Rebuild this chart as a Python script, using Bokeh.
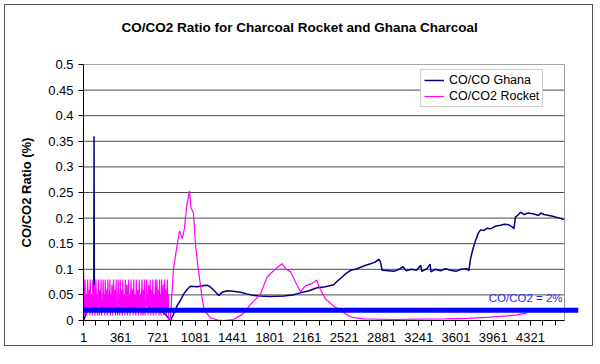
from bokeh.plotting import figure
from bokeh.models import FixedTicker, Legend, LegendItem, Label, NumeralTickFormatter, Title
from bokeh.embed import file_html
from bokeh.resources import INLINE

TITLE = "CO/CO2 Ratio for Charcoal Rocket and Ghana Charcoal"
Y_LABEL = "CO/CO2 Ratio (%)"
GHANA_NAME = "CO/CO Ghana"
ROCKET_NAME = "CO/CO2 Rocket"
LIMIT_TEXT = "CO/CO2 = 2%"

X_TICKS = [1, 361, 721, 1081, 1441, 1801, 2161, 2521, 2881, 3241, 3601, 3961, 4321]
X_MINOR = list(range(1, 4650, 120))
Y_TICKS = [0, 0.05, 0.1, 0.15, 0.2, 0.25, 0.3, 0.35, 0.4, 0.45, 0.5]
X_START = 1
X_END = 4650          # last sample of the category axis
LIMIT = 0.02          # CO/CO2 = 2% reference

# rocket: noisy start-up phase sampled every 5 readings (1..826), then the burn curve
rocket_noise = [
    0.10, 0.03, 0.01, 0.08, 0.02, 0.05, 0.01, 0.04, 0.08, 0.02, 0.03, 0.06, 0.01, 0.08, 0.03, 0.02,
    0.05, 0.01, 0.08, 0.04, 0.02, 0.07, 0.01, 0.03, 0.08, 0.02, 0.05, 0.01, 0.04, 0.08, 0.03, 0.01,
    0.06, 0.02, 0.08, 0.01, 0.04, 0.03, 0.08, 0.02, 0.05, 0.01, 0.08, 0.03, 0.02, 0.06, 0.01, 0.08,
    0.04, 0.02, 0.03, 0.08, 0.01, 0.05, 0.02, 0.07, 0.01, 0.04, 0.08, 0.02, 0.03, 0.06, 0.01, 0.08,
    0.02, 0.04, 0.01, 0.08, 0.03, 0.05, 0.01, 0.08, 0.02, 0.04, 0.06, 0.01, 0.08, 0.03, 0.02, 0.05,
    0.01, 0.08, 0.04, 0.02, 0.07, 0.01, 0.03, 0.08, 0.02, 0.05, 0.01, 0.04, 0.08, 0.02, 0.03, 0.06,
    0.01, 0.08, 0.03, 0.02, 0.05, 0.01, 0.08, 0.04, 0.02, 0.06, 0.01, 0.03, 0.08, 0.02, 0.05, 0.01,
    0.04, 0.08, 0.03, 0.01, 0.06, 0.02, 0.08, 0.01, 0.04, 0.03, 0.08, 0.02, 0.05, 0.01, 0.07, 0.03,
    0.02, 0.08, 0.01, 0.04, 0.06, 0.02, 0.08, 0.01, 0.03, 0.05, 0.02, 0.08, 0.01, 0.04, 0.08, 0.02,
    0.03, 0.06, 0.01, 0.08, 0.02, 0.05, 0.01, 0.08, 0.03, 0.02, 0.07, 0.01, 0.04, 0.08, 0.02, 0.06,
    0.01, 0.03, 0.08, 0.02, 0.05, 0.0]
rocket_noise_x = list(range(1, 1 + 5 * len(rocket_noise), 5))
rocket_burn_x = [840, 870, 908, 930, 955, 977, 996, 1010, 1025, 1040, 1064, 1083, 1110, 1131, 1150, 1170, 1228,
                 1300, 1354, 1450, 1537, 1615, 1712, 1776, 1857, 1921, 1960, 2002, 2050, 2098, 2147, 2211, 2253,
                 2292, 2340, 2420, 2469, 2533, 2600, 2710, 3000, 3226, 3500, 3709, 3900, 4031, 4193, 4289]
rocket_burn_y = [0.0, 0.10, 0.15, 0.175, 0.16, 0.18, 0.22, 0.235, 0.253, 0.22, 0.21, 0.15, 0.10, 0.07, 0.04, 0.02,
                 0.005, 0.001, 0.0, 0.002, 0.012, 0.031, 0.052, 0.085, 0.101, 0.111, 0.10, 0.095, 0.075, 0.056,
                 0.068, 0.072, 0.079, 0.06, 0.042, 0.028, 0.022, 0.013, 0.006, 0.003, 0.002, 0.0025, 0.003,
                 0.004, 0.006, 0.008, 0.011, 0.015]
rocket_x = rocket_noise_x + rocket_burn_x
rocket_y = rocket_noise + rocket_burn_y

ghana_x = [1, 40, 80, 100, 103, 106, 150, 200, 300, 400, 500, 600, 700, 800, 842, 870, 906, 940, 970, 1000,
           1035, 1100, 1150, 1197, 1230, 1260, 1309, 1340, 1390, 1450, 1518, 1580, 1647, 1712, 1800, 1937, 2020,
           2098, 2180, 2259, 2340, 2420, 2460, 2501, 2540, 2582, 2630, 2678, 2730, 2775, 2820, 2855, 2870, 2888,
           2950, 3000, 3050, 3090, 3120, 3170, 3220, 3260, 3270, 3320, 3350, 3360, 3400, 3450, 3500, 3550, 3600,
           3650, 3709, 3725, 3741, 3765, 3790, 3815, 3838, 3870, 3900, 3935, 3980, 4031, 4070, 4112, 4150, 4160,
           4176, 4200, 4225, 4260, 4300, 4353, 4400, 4420, 4450, 4500, 4546, 4600, 4643]
ghana_y = [0.0, 0.02, 0.03, 0.02, 0.36, 0.03, 0.04, 0.02, 0.03, 0.02, 0.03, 0.02, 0.03, 0.01, 0.0, 0.012, 0.029,
           0.04, 0.052, 0.06, 0.067, 0.066, 0.068, 0.069, 0.065, 0.059, 0.049, 0.055, 0.058, 0.057, 0.055, 0.052,
           0.049, 0.048, 0.047, 0.048, 0.05, 0.054, 0.058, 0.064, 0.066, 0.07, 0.078, 0.085, 0.092, 0.098, 0.1,
           0.104, 0.108, 0.111, 0.114, 0.12, 0.115, 0.098, 0.097, 0.096, 0.1, 0.105, 0.097, 0.1, 0.098, 0.108,
           0.096, 0.101, 0.11, 0.095, 0.1, 0.097, 0.101, 0.098, 0.096, 0.1, 0.101, 0.097, 0.12, 0.14, 0.156,
           0.17, 0.177, 0.176, 0.18, 0.179, 0.184, 0.186, 0.188, 0.187, 0.182, 0.179, 0.202, 0.206, 0.2115,
           0.207, 0.21, 0.208, 0.205, 0.21, 0.207, 0.205, 0.203, 0.2, 0.197]

FONT = "Liberation Sans"
VIEW_END = 4785   # category axis space incl. the overhang of the 2 % line

p = figure(width=589, height=342, output_backend="svg", toolbar_location=None,
           x_range=(X_START, VIEW_END), y_range=(Y_TICKS[0], Y_TICKS[-1]),
           min_border_left=78, min_border_right=16, min_border_top=59, min_border_bottom=27,
           title=None)
p.margin = (4, 0, 0, 4)
p.styles = {"border": "1px solid #555555"}
p.background_fill_color = "white"
p.border_fill_color = "white"
p.border_fill_alpha = 0
p.outline_line_color = None
p.xgrid.visible = False
p.ygrid.visible = False

# spacer between plot area and title, then the chart title (stacked outward)
p.add_layout(Title(text=" ", text_font=FONT, text_font_size="13px", standoff=8), "above")
p.add_layout(Title(text=TITLE, align="left", offset=38, standoff=10, text_font=FONT,
                   text_font_size="13.5px", text_font_style="bold", text_color="black"), "above")

# gridlines and right border of the plot area
p.segment(x0=X_START, x1=X_END, y0=Y_TICKS[1:], y1=Y_TICKS[1:], line_color="#4a4a4a", line_width=1)
p.segment(x0=X_END, x1=X_END, y0=Y_TICKS[0], y1=Y_TICKS[-1], line_color="#999999", line_width=1)

r_ghana = p.line(ghana_x, ghana_y, line_color="#000080", line_width=1.5)
r_rocket = p.line(rocket_x, rocket_y, line_color="#FF00FF", line_width=1.2)
p.line([X_START, VIEW_END], [LIMIT, LIMIT], line_color="#0000FF", line_width=5)

lab = Label(x=X_END, y=LIMIT, text=LIMIT_TEXT, text_align="right", text_baseline="bottom",
            x_offset=-2, y_offset=6, text_font=FONT, text_font_size="11.5px", text_color="#2a2aee")
p.add_layout(lab)

xa = p.xaxis[0]
xa.ticker = FixedTicker(ticks=X_TICKS, minor_ticks=X_MINOR)
xa.bounds = (X_START, X_END)
xa.major_tick_out = 5
xa.major_tick_in = 0
xa.minor_tick_out = 5
xa.minor_tick_in = 0
xa.axis_line_color = "black"
xa.major_tick_line_color = "black"
xa.minor_tick_line_color = "black"
xa.major_label_text_font = FONT
xa.major_label_text_font_size = "13px"
xa.major_label_text_color = "black"
xa.major_label_standoff = 7

ya = p.yaxis[0]
ya.ticker = FixedTicker(ticks=Y_TICKS)
ya.formatter = NumeralTickFormatter(format="0.[00]")
ya.major_tick_out = 5
ya.major_tick_in = 0
ya.minor_tick_line_color = None
ya.axis_line_color = "black"
ya.major_tick_line_color = "black"
ya.major_label_text_font = FONT
ya.major_label_text_font_size = "13px"
ya.major_label_text_color = "black"
ya.major_label_standoff = 5
ya.axis_label = Y_LABEL
ya.axis_label_text_font = FONT
ya.axis_label_text_font_size = "13px"
ya.axis_label_text_font_style = "bold"
ya.axis_label_text_color = "black"
ya.axis_label_standoff = 11

legend = Legend(items=[LegendItem(label=GHANA_NAME, renderers=[r_ghana]),
                       LegendItem(label=ROCKET_NAME, renderers=[r_rocket])],
                location=(337, 213), padding=3, spacing=2, margin=0,
                glyph_width=20, glyph_height=14, label_height=14, label_standoff=5,
                label_text_font=FONT, label_text_font_size="12.5px", label_text_color="black",
                border_line_color="#999999", border_line_width=1, background_fill_color="white",
                background_fill_alpha=1)
p.add_layout(legend)

open("out.html", "w").write(file_html(p, INLINE))
